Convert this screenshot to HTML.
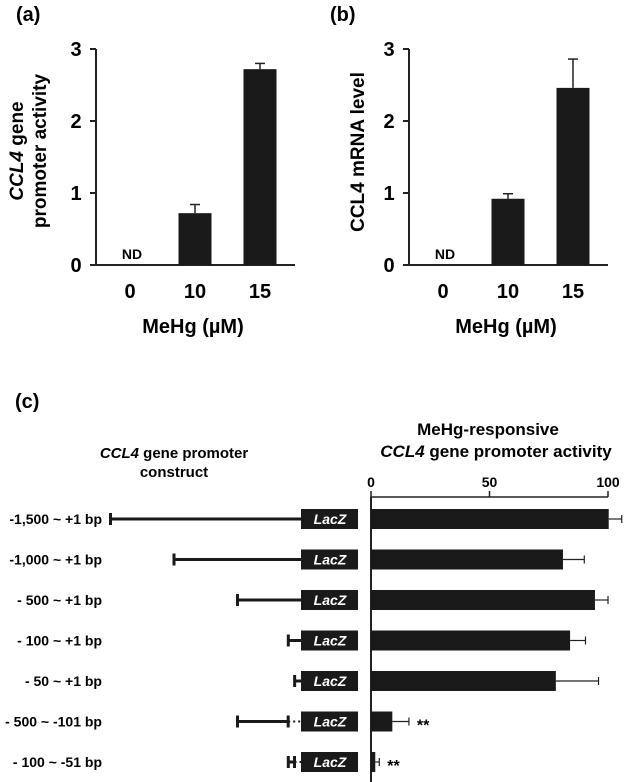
<!DOCTYPE html>
<html><head><meta charset="utf-8"><style>
html,body{margin:0;padding:0;background:#fff}
svg{display:block;font-family:"Liberation Sans",Arial,sans-serif;font-weight:bold}
</style></head><body>
<svg id="fig" width="624" height="782" viewBox="0 0 624 782" xmlns="http://www.w3.org/2000/svg">
<text x="16" y="21" font-size="20">(a)</text>
<text x="330" y="21" font-size="20">(b)</text>
<text x="15" y="408" font-size="20">(c)</text>
<g id="pa"></g>
<g id="pb"></g>
<text transform="translate(23,151) rotate(-90)" text-anchor="middle" font-size="19"><tspan font-style="italic">CCL4</tspan> gene</text>
<text transform="translate(46,151) rotate(-90)" text-anchor="middle" font-size="19">promoter activity</text>
<text transform="translate(364,152) rotate(-90)" text-anchor="middle" font-size="19">CCL4 mRNA level</text>
<text x="174" y="458" text-anchor="middle" font-size="15"><tspan font-style="italic">CCL4</tspan> gene promoter</text>
<text x="174" y="477" text-anchor="middle" font-size="15">construct</text>
<text x="488" y="435" text-anchor="middle" font-size="17">MeHg-responsive</text>
<text x="496" y="457" text-anchor="middle" font-size="17"><tspan font-style="italic">CCL4</tspan> gene promoter activity</text>
<g id="pc"></g>
</svg>
<script>
const abCategories = ["0","10","15"];
const aValues = [null, 0.72, 2.72];
const aErrors = [null, 0.12, 0.08];
const bValues = [null, 0.92, 2.46];
const bErrors = [null, 0.07, 0.40];
const abTicks = [0,1,2,3];
const cLabels = ["-1,500 ~ +1 bp","-1,000 ~ +1 bp","- 500 ~ +1 bp","- 100 ~ +1 bp","- 50 ~ +1 bp","- 500 ~ -101 bp","- 100 ~ -51 bp"];
const cValues = [100.3, 81, 94.5, 84, 78, 9, 1.8];
const cErrors = [5.5, 9, 5.5, 6.5, 18, 7, 1.7];
const cStart = [-1500, -1000, -500, -100, -50, -500, -100];
const cEnd = [1, 1, 1, 1, 1, -101, -51];
const cSig = ["", "", "", "", "", "**", "**"];
const cTicks = [0, 50, 100];

const NS = "http://www.w3.org/2000/svg";
function mk(parent, tag, attrs, text){
  const e = document.createElementNS(NS, tag);
  for (const k in attrs) e.setAttribute(k, attrs[k]);
  if (text !== undefined) e.textContent = text;
  parent.appendChild(e);
  return e;
}

function barPanel(g, x0, vals, errs, pfx){
  const y = v => 265 - v * 72;
  const xc = i => x0 + 34 + i * 65;
  let e;
  e = mk(g, "line", {x1:x0, y1:y(3), x2:x0, y2:y(0), stroke:"#222", "stroke-width":2});
  
  
  e = mk(g, "line", {x1:x0, y1:y(0), x2:x0+199, y2:y(0), stroke:"#222", "stroke-width":2});
  
  
  abTicks.forEach(t => {
    mk(g, "line", {x1:x0-6, y1:y(t), x2:x0, y2:y(t), stroke:"#222", "stroke-width":2});
    e = mk(g, "text", {x:x0-20, y:y(t)+7, "text-anchor":"middle", "font-size":20}, String(t));
    
    
  });
  abCategories.forEach((c, i) => {
    e = mk(g, "text", {x:xc(i), y:298, "text-anchor":"middle", "font-size":20}, c);
    
    
    const v = vals[i];
    if (v === null) {
      e = mk(g, "text", {x:xc(i)+2, y:259, "text-anchor":"middle", "font-size":14}, "ND");
      
      
      return;
    }
    const top = v + errs[i];
    mk(g, "line", {x1:xc(i), y1:y(v), x2:xc(i), y2:y(top), stroke:"#222", "stroke-width":1.5});
    mk(g, "line", {x1:xc(i)-5, y1:y(top), x2:xc(i)+5, y2:y(top), stroke:"#222", "stroke-width":1.5});
    e = mk(g, "rect", {x:xc(i)-16.5, y:y(v), width:33, height:y(0)-y(v), fill:"#1a1a1a"});
    
    
  });
  e = mk(g, "text", {x:x0+97, y:333, "text-anchor":"middle", "font-size":20}, "MeHg (\u00b5M)");
  
  
}
barPanel(document.getElementById("pa"), 96, aValues, aErrors, "panel-a");
barPanel(document.getElementById("pb"), 409, bValues, bErrors, "panel-b");

(function(){
  const g = document.getElementById("pc");
  const ax = v => 371 + v * 2.37;
  const ry = i => 519 + i * 40.5;
  const bp = p => 301 + p * 0.127;
  let e;
  e = mk(g, "line", {x1:ax(0), y1:497, x2:ax(0), y2:782, stroke:"#222", "stroke-width":2});
  
  
  e = mk(g, "line", {x1:ax(0), y1:497, x2:ax(100), y2:497, stroke:"#222", "stroke-width":1.5});
  
  
  cTicks.forEach(t => {
    mk(g, "line", {x1:ax(t), y1:491, x2:ax(t), y2:497, stroke:"#222", "stroke-width":1.5});
    e = mk(g, "text", {x:ax(t), y:487, "text-anchor":"middle", "font-size":14}, String(t));
    
    
  });
  cLabels.forEach((lab, i) => {
    const y = ry(i);
    e = mk(g, "text", {x:102, y:y+5, "text-anchor":"end", "font-size":14}, lab);
    
    
    const xs = bp(cStart[i]), xe = cEnd[i] >= 0 ? 301 : bp(cEnd[i]);
    mk(g, "line", {x1:xs, y1:y, x2:xe, y2:y, stroke:"#1a1a1a", "stroke-width":3});
    mk(g, "line", {x1:xs, y1:y-6, x2:xs, y2:y+6, stroke:"#1a1a1a", "stroke-width":3});
    if (cEnd[i] < 0) {
      mk(g, "line", {x1:xe, y1:y-6, x2:xe, y2:y+6, stroke:"#1a1a1a", "stroke-width":3});
      mk(g, "line", {x1:xe, y1:y, x2:301, y2:y, stroke:"#1a1a1a", "stroke-width":2, "stroke-dasharray":"2,3"});
    }
    e = mk(g, "rect", {x:301, y:y-10, width:57, height:20, fill:"#1a1a1a"});
    
    
    mk(g, "text", {x:330, y:y+5, "text-anchor":"middle", "font-size":14, "font-style":"italic", fill:"#fff"}, "LacZ");
    const v = cValues[i], er = v + cErrors[i];
    mk(g, "line", {x1:ax(v), y1:y, x2:ax(er), y2:y, stroke:"#222", "stroke-width":1.2});
    mk(g, "line", {x1:ax(er), y1:y-4, x2:ax(er), y2:y+4, stroke:"#222", "stroke-width":1.2});
    e = mk(g, "rect", {x:ax(0), y:y-10, width:ax(v)-ax(0), height:20, fill:"#1a1a1a"});
    
    
    if (cSig[i]) {
      e = mk(g, "text", {x:ax(er)+8, y:y+9, "font-size":16}, cSig[i]);
      
      
    }
  });
})();
</script>
</body></html>
